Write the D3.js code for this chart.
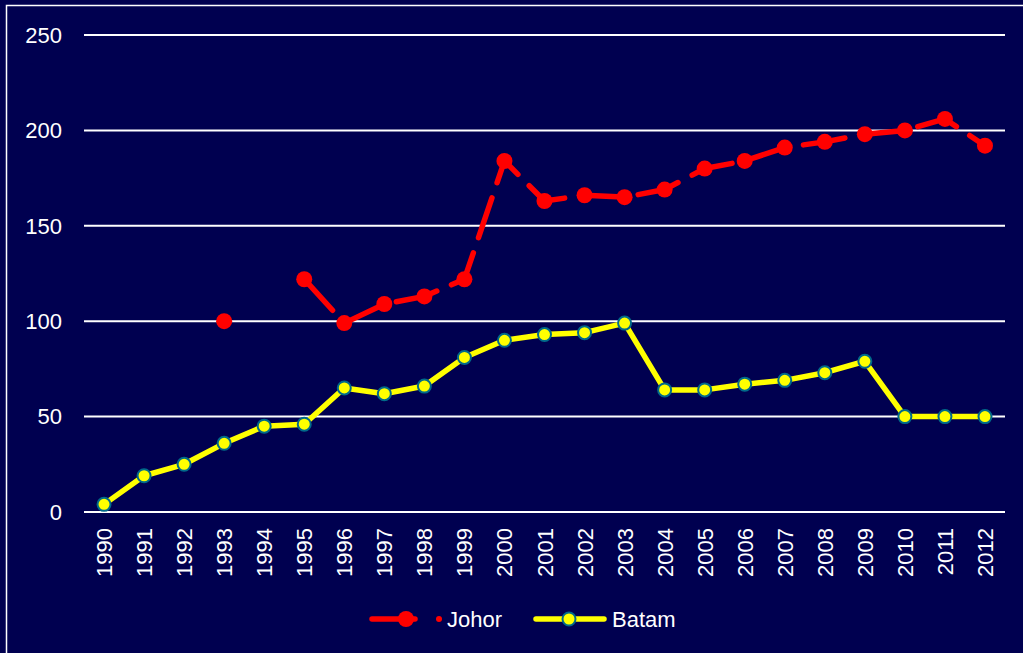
<!DOCTYPE html>
<html>
<head>
<meta charset="utf-8">
<script src="https://cdn.jsdelivr.net/npm/d3@7"></script>
<style>
  html, body { margin: 0; padding: 0; background: #000050; }
  svg { display: block; }
  text { font-family: Arial, "Liberation Sans", sans-serif; fill: #fff; }
</style>
</head>
<body>
<svg id="chart" width="1023" height="653"></svg>
<script>
// years on the x axis
const years = ["1990","1991","1992","1993","1994","1995","1996","1997","1998","1999","2000",
  "2001","2002","2003","2004","2005","2006","2007","2008","2009","2010","2011","2012"]

// Johor (no value for 1990-1992 and 1994)
const johor = [null, null, null, 100, null, 122, 99, 109, 113, 122, 184,
  163, 166, 165, 169, 180, 184, 191, 194, 198, 200, 206, 192]

// Batam
const batam = [4, 19, 25, 36, 45, 46, 65, 62, 66, 81, 90,
  93, 94, 99, 64, 64, 67, 69, 73, 79, 50, 50, 50]

const yTicks = [0, 50, 100, 150, 200, 250]

let svg = d3.select("#chart")

// outer frame (only top & left edges visible)
svg.append("rect")
  .attr("x", 6.5).attr("y", 5.5)
  .attr("width", 1040).attr("height", 700)
  .attr("fill", "none").attr("stroke", "#fff").attr("stroke-width", 1.5)

let plotL = 84, plotR = 1005, plotT = 35, plotB = 512

let x = d3.scalePoint().domain(years).range([plotL, plotR]).padding(0.5)
let y = d3.scaleLinear().domain([0, 250]).range([plotB, plotT])

// gridlines
svg.append("g").selectAll("line")
  .data(yTicks)
  .enter().append("line")
  .attr("x1", plotL).attr("x2", plotR)
  .attr("y1", d => y(d)).attr("y2", d => y(d))
  .attr("stroke", "#fff").attr("stroke-width", 2)

// y labels
svg.append("g").selectAll("text")
  .data(yTicks)
  .enter().append("text")
  .attr("x", 62)
  .attr("y", d => y(d))
  .attr("dy", "0.35em")
  .attr("text-anchor", "end")
  .style("font-size", "22px")
  .text(d => d)

// x labels, rotated
svg.append("g").selectAll("text")
  .data(years)
  .enter().append("text")
  .attr("transform", d => "translate(" + (x(d) + 8) + ",528) rotate(-90)")
  .attr("text-anchor", "end")
  .style("font-size", "22px")
  .text(d => d)

let johorData = years.map((yr, i) => ({ yr: yr, v: johor[i] }))
let batamData = years.map((yr, i) => ({ yr: yr, v: batam[i] }))

let line = d3.line()
  .defined(d => d.v != null)
  .x(d => x(d.yr))
  .y(d => y(d.v))

// Batam line
svg.append("path")
  .datum(batamData)
  .attr("d", line)
  .attr("fill", "none")
  .attr("stroke", "#ffff00")
  .attr("stroke-width", 5.5)
  .attr("stroke-linejoin", "round")

// Johor line (dashed)
svg.append("path")
  .datum(johorData)
  .attr("d", line)
  .attr("fill", "none")
  .attr("stroke", "#ff0000")
  .attr("stroke-width", 5.5)
  .attr("stroke-linecap", "round")
  .attr("stroke-linejoin", "round")
  .attr("stroke-dasharray", "42,16")

svg.append("g").selectAll("circle")
  .data(johorData.filter(d => d.v != null))
  .enter().append("circle")
  .attr("cx", d => x(d.yr))
  .attr("cy", d => y(d.v))
  .attr("r", 8)
  .attr("fill", "#ff0000")

svg.append("g").selectAll("circle")
  .data(batamData)
  .enter().append("circle")
  .attr("cx", d => x(d.yr))
  .attr("cy", d => y(d.v))
  .attr("r", 6.5)
  .attr("fill", "#ffff00")
  .attr("stroke", "#006a8a")
  .attr("stroke-width", 2)

// legend
let lg = svg.append("g")
let ly = 619

lg.append("line")
  .attr("x1", 372).attr("x2", 415).attr("y1", ly).attr("y2", ly)
  .attr("stroke", "#ff0000").attr("stroke-width", 5.5).attr("stroke-linecap", "round")
lg.append("circle").attr("cx", 406).attr("cy", ly).attr("r", 8).attr("fill", "#ff0000")
lg.append("circle").attr("cx", 439).attr("cy", ly).attr("r", 3).attr("fill", "#ff0000")
lg.append("text").attr("x", 447).attr("y", ly).attr("dy", "0.35em")
  .style("font-size", "22px").text("Johor")

lg.append("line")
  .attr("x1", 536).attr("x2", 604).attr("y1", ly).attr("y2", ly)
  .attr("stroke", "#ffff00").attr("stroke-width", 5.5).attr("stroke-linecap", "round")
lg.append("circle").attr("cx", 569).attr("cy", ly).attr("r", 6.5)
  .attr("fill", "#ffff00").attr("stroke", "#006a8a").attr("stroke-width", 2)
lg.append("text").attr("x", 612).attr("y", ly).attr("dy", "0.35em")
  .style("font-size", "22px").text("Batam")
</script>
</body>
</html>
